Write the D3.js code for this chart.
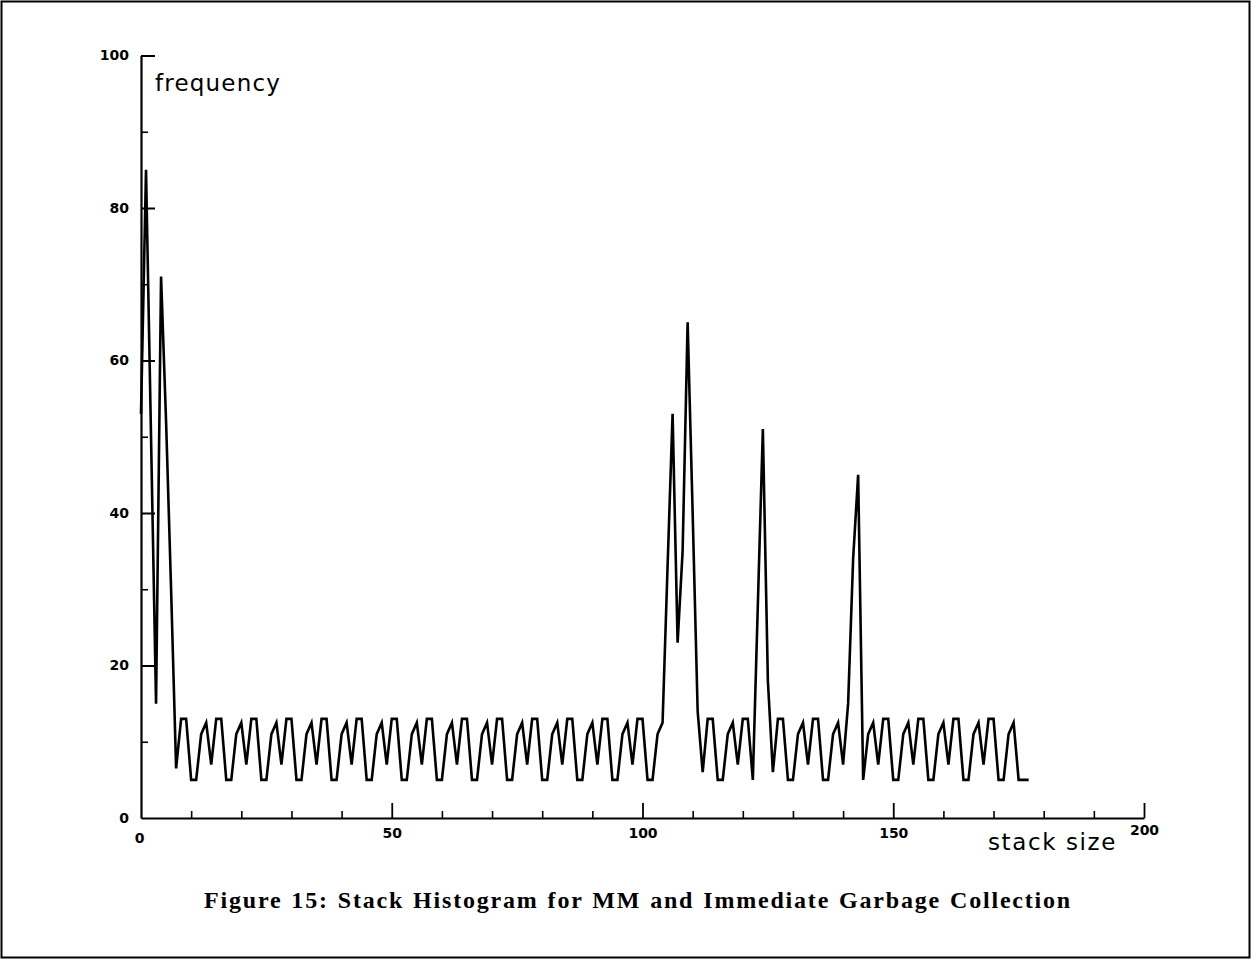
<!DOCTYPE html>
<html>
<head>
<meta charset="utf-8">
<script src="https://cdn.jsdelivr.net/npm/d3@7"></script>
<style>
  html, body { margin: 0; padding: 0; background: #fff; }
  svg { display: block; }
</style>
</head>
<body>
<svg id="chart" width="1252" height="961"></svg>
<script>
// ---- data ----
const stackSize = [
  0,1,2,3,4,5,6,7,8,9,10,11,12,13,14,15,16,17,18,19,
  20,21,22,23,24,25,26,27,28,29,30,31,32,33,34,35,36,37,38,39,
  40,41,42,43,44,45,46,47,48,49,50,51,52,53,54,55,56,57,58,59,
  60,61,62,63,64,65,66,67,68,69,70,71,72,73,74,75,76,77,78,79,
  80,81,82,83,84,85,86,87,88,89,90,91,92,93,94,95,96,97,98,99,
  100,101,102,103,104,105,106,107,108,109,110,111,112,113,114,115,116,117,118,119,
  120,121,122,123,124,125,126,127,128,129,130,131,132,133,134,135,136,137,138,139,
  140,141,142,143,144,145,146,147,148,149,150,151,152,153,154,155,156,157,158,159,
  160,161,162,163,164,165,166,167,168,169,170,171,172,173,174,175,176,177
];
const frequency = [
  53,85,50,15,71,52,30,6.5,
  13,13,5,5,11,12.5,7,
  13,13,5,5,11,12.5,7,
  13,13,5,5,11,12.5,7,
  13,13,5,5,11,12.5,7,
  13,13,5,5,11,12.5,7,
  13,13,5,5,11,12.5,7,
  13,13,5,5,11,12.5,7,
  13,13,5,5,11,12.5,7,
  13,13,5,5,11,12.5,7,
  13,13,5,5,11,12.5,7,
  13,13,5,5,11,12.5,7,
  13,13,5,5,11,12.5,7,
  13,13,5,5,11,12.5,7,
  13,13,5,5,11,12.5,
  33,53,23,35,65,40,14,6,
  13,13,5,5,11,12.5,7,
  13,13,5,28,51,18,6,
  13,13,5,5,11,12.5,7,
  13,13,5,5,11,12.5,7,
  15,34,45,5,11,12.5,7,
  13,13,5,5,11,12.5,7,
  13,13,5,5,11,12.5,7,
  13,13,5,5,11,12.5,7,
  13,13,5,5,11,12.5,5,5,5
];
const yMajorTicks = [0,20,40,60,80,100];
const yMinorTicks = [10,30,50,70,90];
const xMajorTicks = [0,50,100,150,200];
const xMinorTicks = [10,20,30,40,60,70,80,90,110,120,130,140,160,170,180,190];
const yLabel = "frequency";
const xLabel = "stack size";
const title = "Figure 15: Stack Histogram for MM and Immediate Garbage Collection";

// ---- drawing ----
const svg = d3.select("#chart");
const x = d3.scaleLinear().domain([0, 200]).range([141, 1144]);
const y = d3.scaleLinear().domain([0, 100]).range([818, 55.5]);

// page frame
svg.append("rect")
  .attr("x", 1.5).attr("y", 1.5).attr("width", 1248).attr("height", 956)
  .attr("fill", "none").attr("stroke", "#000").attr("stroke-width", 2);

const tickFont = "'DejaVu Sans', sans-serif";

// y axis major
const gy = svg.append("g").attr("transform", `translate(${x(0)},0)`)
  .call(d3.axisLeft(y).tickValues(yMajorTicks).tickSize(-14).tickSizeOuter(0).tickPadding(12)
    .tickFormat(d3.format("d")));
gy.select(".domain").attr("stroke-width", 2.2);
gy.selectAll(".tick line").attr("stroke-width", 2);
gy.selectAll(".tick text").attr("font-family", tickFont).attr("font-weight", "bold")
  .attr("font-size", 14).attr("fill", "#000");
gy.selectAll(".tick").filter(d => d === 0).select("line").remove();

// y axis minor
const gy2 = svg.append("g").attr("transform", `translate(${x(0)},0)`)
  .call(d3.axisLeft(y).tickValues(yMinorTicks).tickSize(-7).tickFormat(""));
gy2.select(".domain").remove();
gy2.selectAll(".tick line").attr("stroke-width", 1.6);

// x axis major
const gx = svg.append("g").attr("transform", `translate(0,${y(0)})`)
  .call(d3.axisBottom(x).tickValues(xMajorTicks).tickSize(-15).tickSizeOuter(0).tickPadding(10)
    .tickFormat(d3.format("d")));
gx.select(".domain").attr("stroke-width", 2.2);
gx.selectAll(".tick line").attr("stroke-width", 1.8);
gx.selectAll(".tick text").attr("font-family", tickFont).attr("font-weight", "bold")
  .attr("font-size", 14).attr("fill", "#000");
const zeroTick = gx.selectAll(".tick").filter(d => d === 0);
zeroTick.select("line").remove();
zeroTick.select("text").attr("y", 15).attr("dx", "-2");
gx.selectAll(".tick").filter(d => d === 200).select("text").attr("y", 7);

// x axis minor
const gx2 = svg.append("g").attr("transform", `translate(0,${y(0)})`)
  .call(d3.axisBottom(x).tickValues(xMinorTicks).tickSize(-7).tickFormat(""));
gx2.select(".domain").remove();
gx2.selectAll(".tick line").attr("stroke-width", 1.6);

// axis labels
svg.append("text").attr("x", 155).attr("y", 91)
  .attr("font-family", tickFont).attr("font-size", 23).attr("letter-spacing", 1.2)
  .attr("fill", "#000").text(yLabel);
svg.append("text").attr("x", 988).attr("y", 850)
  .attr("font-family", tickFont).attr("font-size", 23).attr("letter-spacing", 1.6)
  .attr("fill", "#000").text(xLabel);

// data line
const pts = stackSize.map((s, i) => [s, frequency[i]]);
const line = d3.line().x(d => x(d[0])).y(d => y(d[1])).curve(d3.curveLinear);
svg.append("path").datum(pts)
  .attr("d", line)
  .attr("fill", "none").attr("stroke", "#000").attr("stroke-width", 2.6)
  .attr("stroke-linejoin", "miter").attr("stroke-miterlimit", 6);

// caption: slightly spaced letters, wider word gaps to match the printed width
const cap = svg.append("text").attr("x", 204).attr("y", 908)
  .attr("font-family", "'Liberation Serif', 'Times New Roman', serif")
  .attr("font-weight", "bold").attr("font-size", 24)
  .attr("letter-spacing", 1.8)
  .attr("fill", "#000").text(title);
const natural = cap.node().getComputedTextLength();
const gaps = title.split(" ").length - 1;
const extra = Math.max(0, (868 - natural) / gaps);
cap.attr("word-spacing", extra);
</script>
</body>
</html>
